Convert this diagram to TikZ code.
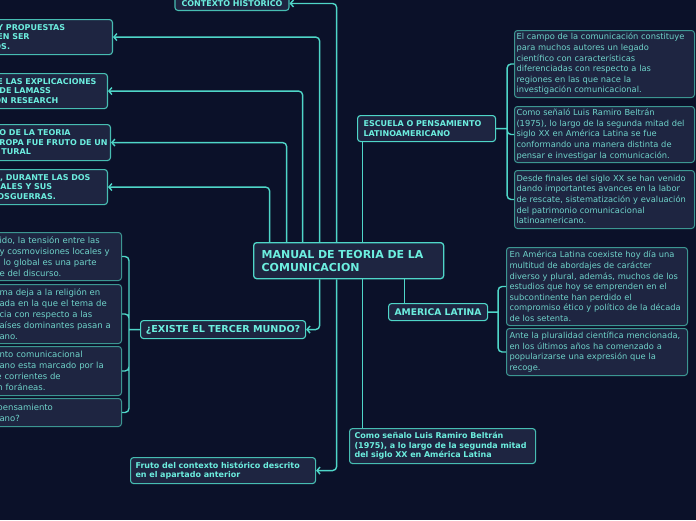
\documentclass[tikz,border=0pt]{standalone}
\usepackage{fontspec}
\setmainfont{DejaVu Sans}
\usepackage{xcolor}
\usetikzlibrary{arrows.meta}
\definecolor{mapbg}{HTML}{0B1129}
\definecolor{boxfill}{HTML}{1E2541}
\definecolor{linkteal}{HTML}{4FD6C8}
\definecolor{edgeteal}{HTML}{3C9691}
\definecolor{topicedge}{HTML}{47BDB2}
\definecolor{titleteal}{HTML}{6CEEDF}
\definecolor{noteteal}{HTML}{6FD3CA}
\tikzset{
    map-link/.style = {draw=linkteal, line width=1.4pt, rounded corners=4pt},
    map-arrow/.style = {map-link, -{Straight Barb[length=3pt,width=7pt]}},
    root-box/.style = {draw=linkteal, fill=boxfill, line width=1.3pt, rounded corners=3pt, text=titleteal, font=\fontsize{11}{13.3}\selectfont\bfseries, align=left, inner ysep=0pt},
    topic-box/.style = {draw=topicedge, fill=boxfill, line width=1.1pt, rounded corners=3pt, text=titleteal, font=\fontsize{8}{9.5}\selectfont\bfseries, align=left, inner ysep=0pt},
    note-box/.style = {draw=edgeteal, fill=boxfill, line width=1pt, rounded corners=3pt, text=noteteal, font=\fontsize{8.3}{10.6}\selectfont, align=left, inner ysep=0pt},
    side-note/.style = {note-box, font=\fontsize{8.5}{11.1}\selectfont},
}

\begin{document}
\begin{tikzpicture}[x=1pt, y=-1pt]
\fill[mapbg] (0,0) rectangle (696,520);
\clip (0,0) rectangle (696,520);

\node[root-box, anchor=north west, inner xsep=8pt, text width=174pt, minimum width=190pt, minimum height=36pt] (manual) at (253,242) {MANUAL DE TEORIA DE LA\\COMUNICACION};

\node[topic-box, anchor=south, align=center, minimum width=114pt, minimum height=14pt] (contexto) at (232,11) {CONTEXTO HISTORICO};
\node[topic-box, anchor=north east, inner xsep=2pt, text width=113pt, minimum width=117pt, minimum height=35pt] (propuestas) at (113,19) {Y PROPUESTAS\\EN SER\\\hspace*{-3pt}OS.};
\node[topic-box, anchor=north east, inner xsep=2pt, text width=108pt, minimum width=112pt, minimum height=35pt] (explicaciones) at (108,73) {E LAS EXPLICACIONES\\\hspace*{2pt}DE LAMASS\\\hspace*{-3pt}ON RESEARCH};
\node[topic-box, anchor=north east, inner xsep=2pt, text width=111pt, minimum width=115pt, minimum height=36pt] (teoria) at (111,124) {\hspace*{2pt}O DE LA TEORIA\\\hspace*{2pt}ROPA FUE FRUTO DE UN\\\hspace*{4pt}TURAL};
\node[topic-box, anchor=north east, inner xsep=2pt, text width=108pt, minimum width=112pt, minimum height=35pt] (guerras) at (108,169) {\hspace*{-4pt}O, DURANTE LAS DOS\\IALES Y SUS\\OSGUERRAS.};

\node[topic-box, draw=linkteal, anchor=north west, inner xsep=6pt, text width=126pt, minimum width=138pt, minimum height=26pt] (escuela) at (357,115) {ESCUELA O PENSAMIENTO\\LATINOAMERICANO};
\node[note-box, anchor=north west, inner xsep=2pt, text width=176pt, minimum width=180pt, minimum height=67pt] (campo) at (514,30) {El campo de la comunicación constituye\\para muchos autores un legado\\científico con características\\diferenciadas con respecto a las\\regiones en las que nace la\\investigación comunicacional.};
\node[note-box, anchor=north west, inner xsep=2pt, text width=176pt, minimum width=180pt, minimum height=56pt] (senalo) at (514,106) {Como señaló Luis Ramiro Beltrán\\(1975), lo largo de la segunda mitad del\\siglo XX en América Latina se fue\\conformando una manera distinta de\\pensar e investigar la comunicación.};
\node[note-box, anchor=north west, inner xsep=2pt, text width=176pt, minimum width=180pt, minimum height=58pt] (finales) at (514,170) {Desde finales del siglo XX se han venido\\dando importantes avances en la labor\\de rescate, sistematización y evaluación\\del patrimonio comunicacional\\latinoamericano.};

\node[topic-box, draw=linkteal, anchor=north west, align=center, font=\fontsize{9.2}{11}\selectfont\bfseries, minimum width=99pt, minimum height=17pt] (america) at (388,303) {AMERICA LATINA};
\node[note-box, anchor=north west, inner xsep=3pt, text width=175pt, minimum width=181pt, minimum height=78pt] (coexiste) at (506,247) {En América Latina coexiste hoy día una\\multitud de abordajes de carácter\\diverso y plural, además, muchos de los\\estudios que hoy se emprenden en el\\subcontinente han perdido el\\compromiso ético y político de la década\\de los setenta.};
\node[note-box, anchor=north west, inner xsep=3pt, text width=175pt, minimum width=181pt, minimum height=47pt] (pluralidad) at (506,328) {Ante la pluralidad científica mencionada,\\en los últimos años ha comenzado a\\popularizarse una expresión que la\\recoge.};

\node[topic-box, draw=linkteal, anchor=north west, align=center, font=\fontsize{9.6}{11}\selectfont\bfseries, minimum width=165pt, minimum height=18pt] (tercer) at (140,320) {¿EXISTE EL TERCER MUNDO?};
\node[side-note, anchor=north east, inner xsep=4pt, text width=118pt, minimum width=126pt, minimum height=48pt] (tension) at (122,232) {ido, la tensión entre las\\y cosmovisiones locales y\\\hspace*{4pt}lo global es una parte\\e del discurso.};
\node[side-note, anchor=north east, inner xsep=4pt, text width=118pt, minimum width=126pt, minimum height=59pt] (religion) at (122,284) {ma deja a la religión en\\ada en la que el tema de\\cia con respecto a las\\aíses dominantes pasan a\\ano.};
\node[side-note, anchor=north east, inner xsep=4pt, text width=118pt, minimum width=126pt, minimum height=49pt] (marcado) at (122,346) {nto comunicacional\\ano esta marcado por la\\\hspace*{-3pt}e corrientes de\\\hspace*{-2pt}n foráneas.};
\node[side-note, anchor=north east, inner xsep=4pt, text width=118pt, minimum width=126pt, minimum height=28pt] (pensamiento) at (122,398) {\hspace*{-2pt}pensamiento\\ano?};

\node[topic-box, anchor=north west, inner xsep=5pt, text width=176pt, minimum width=186pt, minimum height=35pt] (beltran) at (349,428) {Como señalo Luis Ramiro Beltrán\\(1975), a lo largo de la segunda mitad\\del siglo XX en América Latina};
\node[topic-box, anchor=north west, inner xsep=5pt, text width=175pt, minimum width=185pt, minimum height=26pt] (fruto) at (130,457) {Fruto del contexto histórico descrito\\en el apartado anterior};

\draw[map-arrow] ([xshift=-12pt]manual.north) |- (contexto.east);
\draw[map-arrow] ([xshift=-29pt]manual.north) |- (propuestas.east);
\draw[map-arrow] ([xshift=-46pt]manual.north) |- (explicaciones.east);
\draw[map-arrow] ([xshift=-62pt]manual.north) |- (teoria.east);
\draw[map-arrow] ([xshift=-79pt]manual.north) |- (guerras.east);
\draw[map-link] ([xshift=14pt]manual.north) -- ([xshift=14pt]manual.north |- escuela.south);
\draw[map-arrow] ([xshift=-29pt]manual.south) |- (tercer.east);
\draw[map-arrow] ([xshift=-12pt]manual.south) |- (fruto.east);
\draw[map-link] ([xshift=14pt]manual.south) -- ([xshift=14pt]manual.south |- beltran.north);
\draw[map-link] ([xshift=56pt]manual.south) -- ([xshift=56pt]manual.south |- america.north);

\coordinate (escuela-fork) at ([xshift=11pt]escuela.east);
\draw[map-link] (escuela.east) -- (escuela-fork) (escuela-fork) |- (campo.west) (escuela-fork) |- (senalo.west) (escuela-fork) |- (finales.west);
\coordinate (america-fork) at ([xshift=10pt]america.east);
\draw[map-link] (america.east) -- (america-fork) (america-fork) |- (coexiste.west) (america-fork) |- (pluralidad.west);
\coordinate (tercer-fork) at ([xshift=-11pt]tercer.west);
\draw[map-link] (tercer.west) -- (tercer-fork) (tercer-fork) |- (tension.east) (tercer-fork) |- (religion.east) (tercer-fork) |- (marcado.east) (tercer-fork) |- (pensamiento.east);
\end{tikzpicture}
\end{document}
